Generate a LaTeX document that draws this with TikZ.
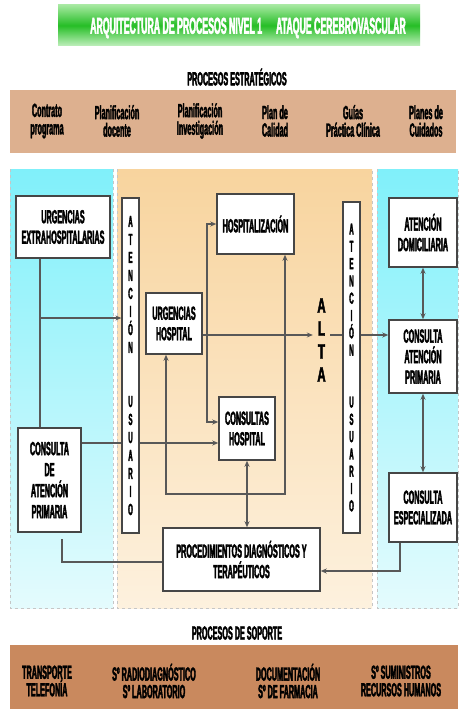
\documentclass[tikz,border=0pt]{standalone}
\usepackage{fontspec}
\newfontfamily\cf[FakeStretch=0.38,FakeBold=2]{Liberation Sans}
\newfontfamily\cfw[FakeStretch=0.55,FakeBold=2]{Liberation Sans}
\usetikzlibrary{arrows.meta,calc}
\definecolor{bdr}{RGB}{70,70,70}
\definecolor{lnc}{RGB}{88,88,88}
\definecolor{strat}{RGB}{221,176,143}
\definecolor{supp}{RGB}{201,137,94}
\definecolor{gA}{RGB}{165,232,160}
\definecolor{gB}{RGB}{38,190,38}
\definecolor{cyA}{RGB}{128,240,250}
\definecolor{cyB}{RGB}{228,251,253}
\definecolor{orA}{RGB}{248,212,158}
\definecolor{orB}{RGB}{253,241,222}
\pgfdeclarelayer{bg}
\pgfdeclarelayer{lines}
\pgfsetlayers{bg,lines,main}
\begin{document}
\begin{tikzpicture}[x=1pt,y=-1pt,
  box/.style={draw=bdr, fill=white, line width=1.5pt, inner sep=0pt, align=center,
    font=\cf\bfseries\fontsize{19}{20.5}\selectfont},
  vbox/.style={draw=bdr, fill=white, line width=1.3pt, inner sep=0pt, align=center,
    minimum width=17pt},
  band/.style={inner sep=0pt, align=center, font=\cf\bfseries\fontsize{19}{17.5}\selectfont},
  hdr/.style={inner sep=0pt, font=\cf\bfseries\fontsize{19}{17}\selectfont},
  ln/.style={draw=lnc, line width=1.5pt},
  arr/.style={ln, -{Stealth[length=6pt,width=5pt]}},
  arrb/.style={ln, {Stealth[length=6pt,width=5pt]}-{Stealth[length=6pt,width=5pt]}},
  pnl/.style={draw=gray!45, dashed, line width=0.8pt}
]
\useasboundingbox (0,0) rectangle (460,709);

% ---- background panels
\begin{pgfonlayer}{bg}
\fill[white] (0,0) rectangle (460,709);
\shade[top color=gA, bottom color=gA!70!white, middle color=gB] (58,5) rectangle (420,46);
\fill[strat] (10,90) rectangle (456,153);
\fill[supp] (10,645) rectangle (458,709);
\shade[top color=cyA, bottom color=cyB] (10,169) rectangle (113,608);
\shade[top color=orA, bottom color=orB] (117,169) rectangle (372,608);
\shade[top color=cyA, bottom color=cyB] (377,169) rectangle (458,608);
\draw[pnl] (10,169) -- (10,608) -- (113,608) -- (113,169);
\draw[pnl] (117,169) -- (117,608) -- (372,608) -- (372,169);
\draw[pnl] (377,169) -- (377,608) -- (458,608) -- (458,169);
\end{pgfonlayer}

% ---- titles
\node[inner sep=0pt, text=white, font=\cf\bfseries\fontsize{23}{24}\selectfont] (title) at (248,28)
  {ARQUITECTURA DE PROCESOS NIVEL 1\hspace{14pt}ATAQUE CEREBROVASCULAR};
\node[hdr] (hstrat) at (237,77) {PROCESOS ESTRATÉGICOS};
\node[hdr] (hsupp) at (237,633) {PROCESOS DE SOPORTE};

% ---- strategic processes
\node[band] (s1) at (47,121) {Contrato\\programa};
\node[band] (s2) at (117,121) {Planificación\\docente};
\node[band] (s3) at (200,121) {Planificación\\Investigación};
\node[band] (s4) at (275,121) {Plan de\\Calidad};
\node[band] (s5) at (353,121) {Guías\\Práctica Clínica};
\node[band] (s6) at (426,121) {Planes de\\Cuidados};

% ---- support processes
\node[band] (p1) at (47,681) {TRANSPORTE\\TELEFONÍA};
\node[band] (p2) at (154,681) {Sº RADIODIAGNÓSTICO\\Sº LABORATORIO};
\node[band] (p3) at (288,681) {DOCUMENTACIÓN\\Sº DE FARMACIA};
\node[band] (p4) at (401,681) {Sº SUMINISTROS\\RECURSOS HUMANOS};

% ---- boxes
\node[box, minimum width=94pt, minimum height=62pt] (ueh) at (63,227) {URGENCIAS\\EXTRAHOSPITALARIAS};
\node[box, minimum width=63pt, minimum height=104pt, font=\cf\bfseries\fontsize{19}{21}\selectfont] (capl) at (49.5,480) {CONSULTA\\DE\\ATENCIÓN\\PRIMARIA};
\node[box, minimum width=77pt, minimum height=60pt] (hosp) at (255.5,224) {HOSPITALIZACIÓN};
\node[box, minimum width=56pt, minimum height=61pt] (uh) at (174,323.5) {URGENCIAS\\HOSPITAL};
\node[box, minimum width=56pt, minimum height=63pt] (cons) at (247,428.5) {CONSULTAS\\HOSPITAL};
\node[box, minimum width=157pt, minimum height=63pt] (proc) at (241.5,559.5) {PROCEDIMIENTOS DIAGNÓSTICOS Y\\TERAPÉUTICOS};
\node[box, minimum width=68pt, minimum height=69pt] (ad) at (423,232.5) {ATENCIÓN\\DOMICILIARIA};
\node[box, minimum width=68pt, minimum height=73pt] (capr) at (423,356.5) {CONSULTA\\ATENCIÓN\\PRIMARIA};
\node[box, minimum width=68pt, minimum height=69pt] (cesp) at (423,507.5) {CONSULTA\\ESPECIALIZADA};

\node[vbox, minimum height=335pt, font=\cf\bfseries\fontsize{16}{18}\selectfont] (aul) at (130.5,365.5)
  {A\\T\\E\\N\\C\\I\\Ó\\N\\\mbox{}\\\mbox{}\\U\\S\\U\\A\\R\\I\\O};
\node[vbox, minimum height=331pt, font=\cf\bfseries\fontsize{16}{17.3}\selectfont] (aur) at (351.5,367.5)
  {A\\T\\E\\N\\C\\I\\Ó\\N\\\mbox{}\\\mbox{}\\U\\S\\U\\A\\R\\I\\O};

\node[inner sep=0pt, minimum width=17pt, align=center, font=\cfw\bfseries\fontsize{21}{23}\selectfont] (alta) at (321.5,340) {A\\L\\T\\A};

% ---- connectors
\begin{pgfonlayer}{lines}
\coordinate (r1) at (0,335);
\coordinate (r2) at (0,443);
\coordinate (r3) at (0,422);
\coordinate (b1) at (207,335);
\coordinate (v40) at (40,318);
\coordinate (c285) at (285,494);
\coordinate (c166) at (166,494);
\coordinate (c62) at (62,562);
\coordinate (c400) at (400,571);

\draw[ln] (ueh.south -| v40) -- (capl.north -| v40);
\draw[arr] (v40) -- (aul.west |- v40);
\draw[arr] (capl.east |- r2) -- (cons.west |- r2);
\draw[ln, shorten >=6pt] (proc.west |- c62) -- (c62) -- (capl.south -| c62);
\draw[arr] (uh.east |- r1) -- (alta.west |- r1);
\draw[arr] (b1) |- (hosp.west);
\draw[arr] (b1) |- (cons.west |- r3);
\draw[arr] (alta.east |- r1) -- (capr.west |- r1);
\draw[arrb] (hosp.south -| c285) -- (c285) -- (c166) -- (uh.south -| c166);
\draw[arrb] (cons.south) -- (cons.south |- proc.north);
\draw[arrb] (ad.south) -- (capr.north);
\draw[arrb] (capr.south) -- (cesp.north);
\draw[arr] (cesp.south -| c400) -- (c400) -- (proc.east |- c400);
\end{pgfonlayer}
\end{tikzpicture}
\end{document}
